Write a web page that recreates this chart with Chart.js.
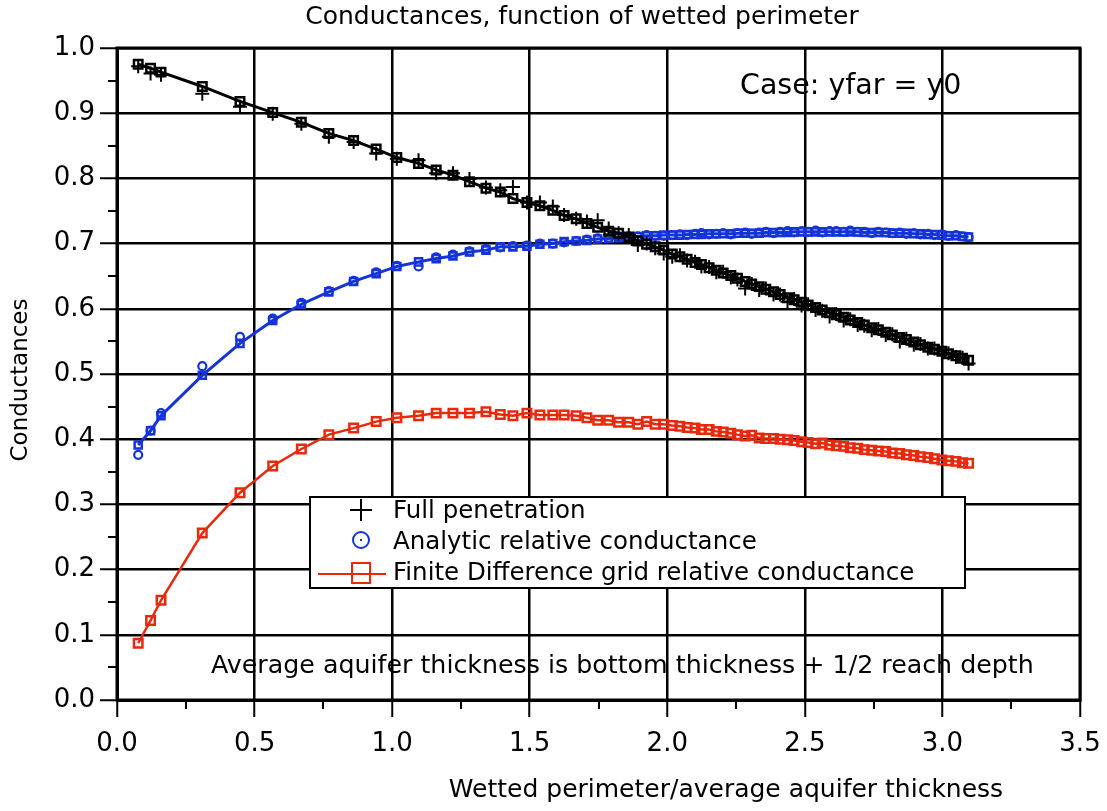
<!DOCTYPE html>
<html>
<head>
<meta charset="utf-8">
<title>Conductances, function of wetted perimeter</title>
<script src="https://cdn.jsdelivr.net/npm/chart.js@4.4.1/dist/chart.umd.min.js"></script>
<style>
  html, body { margin: 0; padding: 0; background: #fff; }
  #wrap { width: 1107px; height: 811px; }
</style>
</head>
<body>
<div id="wrap"><canvas id="grafico" width="1107" height="811"></canvas></div>
<script>
// === Dados ===
const xRatio = [
  0.077, 0.122, 0.160, 0.310, 0.447, 0.566, 0.670, 0.770, 0.860, 0.942,
  1.017, 1.096, 1.160, 1.221, 1.281, 1.341, 1.393, 1.439, 1.490, 1.537,
  1.584, 1.625, 1.669, 1.708, 1.747, 1.787, 1.823, 1.860, 1.893, 1.925,
  1.956, 1.987, 2.018, 2.046, 2.072, 2.101, 2.124, 2.152, 2.178, 2.203,
  2.231, 2.255, 2.283, 2.307, 2.334, 2.358, 2.386, 2.410, 2.437, 2.461,
  2.488, 2.512, 2.539, 2.563, 2.590, 2.614, 2.641, 2.665, 2.692, 2.716,
  2.743, 2.767, 2.794, 2.818, 2.845, 2.869, 2.896, 2.920, 2.947, 2.971,
  2.998, 3.022, 3.049, 3.073, 3.095
];

// linha preta com quadrados (grade, penetração total)
const fullPenGrid = [
  0.975, 0.969, 0.963, 0.941, 0.918, 0.901, 0.886, 0.869, 0.858, 0.845,
  0.832, 0.823, 0.813, 0.805, 0.795, 0.785, 0.779, 0.769, 0.763, 0.758,
  0.751, 0.743, 0.738, 0.731, 0.725, 0.719, 0.716, 0.710, 0.704, 0.699,
  0.695, 0.690, 0.684, 0.680, 0.676, 0.671, 0.668, 0.663, 0.659, 0.655,
  0.651, 0.647, 0.642, 0.638, 0.634, 0.630, 0.626, 0.622, 0.617, 0.614,
  0.610, 0.606, 0.602, 0.598, 0.594, 0.591, 0.587, 0.583, 0.579, 0.575,
  0.571, 0.568, 0.564, 0.560, 0.556, 0.553, 0.549, 0.545, 0.541, 0.538,
  0.535, 0.531, 0.528, 0.524, 0.521
];

// cruzes pretas: Full penetration
const fullPenetration = [
  0.972, 0.961, 0.959, 0.930, 0.910, 0.899, 0.884, 0.864, 0.856, 0.838,
  0.830, 0.828, 0.808, 0.808, 0.799, 0.786, 0.782, 0.787, 0.763, 0.763,
  0.757, 0.744, 0.738, 0.734, 0.736, 0.723, 0.716, 0.713, 0.698, 0.700,
  0.693, 0.685, 0.680, 0.682, 0.674, 0.672, 0.665, 0.664, 0.656, 0.657,
  0.648, 0.645, 0.631, 0.638, 0.629, 0.631, 0.622, 0.622, 0.611, 0.615,
  0.605, 0.607, 0.598, 0.597, 0.588, 0.592, 0.582, 0.584, 0.575, 0.574,
  0.567, 0.569, 0.560, 0.561, 0.550, 0.554, 0.545, 0.546, 0.539, 0.539,
  0.531, 0.532, 0.526, 0.525, 0.516
];

// linha azul com quadrados (grade, analítica)
const analyticGrid = [
  0.391, 0.413, 0.436, 0.498, 0.547, 0.582, 0.607, 0.626, 0.642, 0.654,
  0.665, 0.672, 0.677, 0.681, 0.687, 0.690, 0.695, 0.695, 0.696, 0.699,
  0.700, 0.703, 0.704, 0.705, 0.707, 0.708, 0.709, 0.710, 0.711, 0.712,
  0.712, 0.713, 0.713, 0.713, 0.714, 0.714, 0.714, 0.715, 0.715, 0.715,
  0.715, 0.716, 0.716, 0.716, 0.716, 0.717, 0.717, 0.717, 0.717, 0.718,
  0.718, 0.718, 0.718, 0.718, 0.718, 0.718, 0.718, 0.718, 0.718, 0.717,
  0.717, 0.717, 0.717, 0.716, 0.716, 0.716, 0.715, 0.715, 0.714, 0.714,
  0.713, 0.712, 0.712, 0.711, 0.710
];

// círculos azuis: Analytic relative conductance
const analyticConductance = [
  0.376, 0.413, 0.440, 0.512, 0.557, 0.585, 0.609, 0.627, 0.643, 0.656,
  0.666, 0.665, 0.679, 0.683, 0.688, 0.692, 0.694, 0.696, 0.697, 0.700,
  0.700, 0.702, 0.704, 0.706, 0.708, 0.709, 0.711, 0.711, 0.711, 0.713,
  0.712, 0.712, 0.713, 0.714, 0.713, 0.715, 0.716, 0.714, 0.715, 0.716,
  0.714, 0.716, 0.717, 0.715, 0.717, 0.718, 0.716, 0.718, 0.719, 0.717,
  0.719, 0.718, 0.720, 0.717, 0.719, 0.719, 0.718, 0.720, 0.718, 0.718,
  0.716, 0.718, 0.717, 0.716, 0.717, 0.715, 0.716, 0.714, 0.715, 0.713,
  0.714, 0.712, 0.713, 0.711, 0.710
];

// linha vermelha: Finite Difference grid relative conductance
const finiteDifference = [
  0.087, 0.122, 0.153, 0.256, 0.318, 0.359, 0.385, 0.407, 0.417, 0.427,
  0.433, 0.436, 0.440, 0.440, 0.440, 0.442, 0.438, 0.436, 0.440, 0.437,
  0.437, 0.437, 0.436, 0.433, 0.429, 0.429, 0.426, 0.426, 0.423, 0.427,
  0.423, 0.423, 0.421, 0.420, 0.418, 0.417, 0.415, 0.415, 0.412, 0.411,
  0.409, 0.407, 0.405, 0.406, 0.402, 0.401, 0.401, 0.400, 0.399, 0.398,
  0.396, 0.395, 0.393, 0.394, 0.391, 0.390, 0.389, 0.387, 0.386, 0.384,
  0.383, 0.382, 0.381, 0.379, 0.378, 0.376, 0.375, 0.373, 0.372, 0.370,
  0.368, 0.367, 0.366, 0.364, 0.363
];

const xTicks = [0.0, 0.5, 1.0, 1.5, 2.0, 2.5, 3.0, 3.5];
const yTicks = [0.0, 0.1, 0.2, 0.3, 0.4, 0.5, 0.6, 0.7, 0.8, 0.9, 1.0];
const xMinorTicks = [0.25, 0.75, 1.25, 1.75, 2.25, 2.75, 3.25];
const yMinorTicks = [0.05, 0.15, 0.25, 0.35, 0.45, 0.55, 0.65, 0.75, 0.85, 0.95];

const legendLabels = [
  "Full penetration",
  "Analytic relative conductance",
  "Finite Difference grid relative conductance"
];

// === Cores ===
const PRETO = "#000000";
const AZUL = "#1434d9";
const VERMELHO = "#e8290c";
const FONTE = "'DejaVu Sans', Verdana, sans-serif";

function pontos(ys) {
  return xRatio.map((x, i) => ({ x: x, y: ys[i] }));
}

// === Plugin para textos, moldura, legenda e ticks menores ===
const extras = {
  id: "extras",
  afterDraw(chart) {
    const { ctx, chartArea: a, scales } = chart;
    const sx = scales.x, sy = scales.y;
    ctx.save();
    ctx.strokeStyle = PRETO;
    ctx.fillStyle = PRETO;

    // ticks menores (para fora)
    ctx.lineWidth = 2;
    ctx.beginPath();
    yMinorTicks.forEach(v => {
      const py = Math.round(sy.getPixelForValue(v));
      ctx.moveTo(a.left - 9, py);
      ctx.lineTo(a.left, py);
    });
    xMinorTicks.forEach(v => {
      const px = Math.round(sx.getPixelForValue(v));
      ctx.moveTo(px, a.bottom);
      ctx.lineTo(px, a.bottom + 9);
    });
    ctx.stroke();

    // moldura
    ctx.lineWidth = 3;
    ctx.strokeRect(a.left, a.top, a.right - a.left, a.bottom - a.top);

    // título e eixos
    ctx.textBaseline = "middle";
    ctx.textAlign = "center";
    ctx.font = "25px " + FONTE;
    ctx.fillText("Conductances, function of wetted perimeter", 582, 17);
    ctx.fillText("Wetted perimeter/average aquifer thickness", 726, 790);

    ctx.save();
    ctx.translate(21, 380);
    ctx.rotate(-Math.PI / 2);
    ctx.font = "23px " + FONTE;
    ctx.fillText("Conductances", 0, 0);
    ctx.restore();

    // anotações
    ctx.textAlign = "left";
    ctx.font = "28.5px " + FONTE;
    ctx.fillText("Case: yfar = y0", 740, 87);
    ctx.font = "25.3px " + FONTE;
    ctx.fillText("Average aquifer thickness is bottom thickness + 1/2 reach depth", 211, 666);

    // legenda
    const lx = 310, ly = 497, lw = 655, lh = 91;
    ctx.fillStyle = "#fff";
    ctx.fillRect(lx, ly, lw, lh);
    ctx.lineWidth = 2;
    ctx.strokeStyle = PRETO;
    ctx.strokeRect(lx, ly, lw, lh);

    const cx = 361;
    const rows = [512, 543, 574];
    // cruz
    ctx.lineWidth = 2;
    ctx.beginPath();
    ctx.moveTo(cx - 11, rows[0] - 2); ctx.lineTo(cx + 11, rows[0] - 2);
    ctx.moveTo(cx, rows[0] - 13); ctx.lineTo(cx, rows[0] + 9);
    ctx.stroke();
    // círculo
    ctx.strokeStyle = AZUL;
    ctx.beginPath();
    ctx.arc(cx, rows[1] - 3, 8, 0, Math.PI * 2);
    ctx.stroke();
    ctx.fillStyle = AZUL;
    ctx.fillRect(cx - 1, rows[1] - 4, 2, 2);
    // linha vermelha com quadrado
    ctx.strokeStyle = VERMELHO;
    ctx.beginPath();
    ctx.moveTo(318, rows[2]); ctx.lineTo(386, rows[2]);
    ctx.stroke();
    ctx.strokeRect(cx - 9, rows[2] - 11, 18, 20);

    ctx.fillStyle = PRETO;
    ctx.font = "24.5px " + FONTE;
    legendLabels.forEach((t, i) => ctx.fillText(t, 393, rows[i]));

    ctx.restore();
  }
};

// === Gráfico ===
const ctxGrafico = document.getElementById("grafico").getContext("2d");
new Chart(ctxGrafico, {
  type: "line",
  data: {
    datasets: [
      {
        label: legendLabels[0],
        data: pontos(fullPenetration),
        showLine: false,
        pointStyle: "cross",
        pointRadius: 7,
        pointBorderWidth: 2,
        borderColor: PRETO,
        backgroundColor: PRETO
      },
      {
        label: "grid full penetration",
        data: pontos(fullPenGrid),
        borderColor: PRETO,
        borderWidth: 3,
        pointStyle: "rect",
        pointRadius: 6,
        pointBorderWidth: 2.5,
        pointBackgroundColor: "rgba(255,255,255,0)",
        pointBorderColor: PRETO,
        tension: 0
      },
      {
        label: legendLabels[1],
        data: pontos(analyticConductance),
        showLine: false,
        pointStyle: "circle",
        pointRadius: 4,
        pointBorderWidth: 2.2,
        pointBackgroundColor: "rgba(255,255,255,0)",
        pointBorderColor: AZUL,
        borderColor: AZUL
      },
      {
        label: "grid analytic",
        data: pontos(analyticGrid),
        borderColor: AZUL,
        borderWidth: 3,
        pointStyle: "rect",
        pointRadius: 5,
        pointBorderWidth: 2.5,
        pointBackgroundColor: "rgba(255,255,255,0)",
        pointBorderColor: AZUL,
        tension: 0
      },
      {
        label: legendLabels[2],
        data: pontos(finiteDifference),
        borderColor: VERMELHO,
        borderWidth: 2.5,
        pointStyle: "rect",
        pointRadius: 6,
        pointBorderWidth: 2.5,
        pointBackgroundColor: "rgba(255,255,255,0)",
        pointBorderColor: VERMELHO,
        tension: 0
      }
    ]
  },
  options: {
    responsive: false,
    animation: false,
    devicePixelRatio: 1,
    layout: { padding: { top: 48, right: 27, left: 0, bottom: 0 } },
    plugins: {
      legend: { display: false },
      title: { display: false },
      tooltip: { enabled: false }
    },
    scales: {
      x: {
        type: "linear",
        min: 0,
        max: 3.5,
        afterBuildTicks: axis => { axis.ticks = xTicks.map(v => ({ value: v })); },
        afterFit: scale => {
          scale.height = 111;
          scale.paddingLeft = 0;
          scale.paddingRight = 0;
        },
        grid: { color: PRETO, lineWidth: 2.5, tickLength: 17, tickColor: PRETO, tickWidth: 2 },
        border: { display: true, color: PRETO, width: 3 },
        ticks: {
          color: PRETO,
          autoSkip: false,
          maxRotation: 0,
          padding: 12,
          font: { family: FONTE, size: 26 },
          callback: v => Number(v).toFixed(1)
        }
      },
      y: {
        type: "linear",
        min: 0,
        max: 1,
        afterBuildTicks: axis => { axis.ticks = yTicks.map(v => ({ value: v })); },
        afterFit: scale => {
          scale.width = 117;
          scale.paddingTop = 0;
          scale.paddingBottom = 0;
        },
        grid: { color: PRETO, lineWidth: 2.5, tickLength: 17, tickColor: PRETO, tickWidth: 2 },
        border: { display: true, color: PRETO, width: 3 },
        ticks: {
          color: PRETO,
          autoSkip: false,
          padding: 5,
          font: { family: FONTE, size: 26 },
          callback: v => Number(v).toFixed(1)
        }
      }
    }
  },
  plugins: [extras]
});
</script>
</body>
</html>
